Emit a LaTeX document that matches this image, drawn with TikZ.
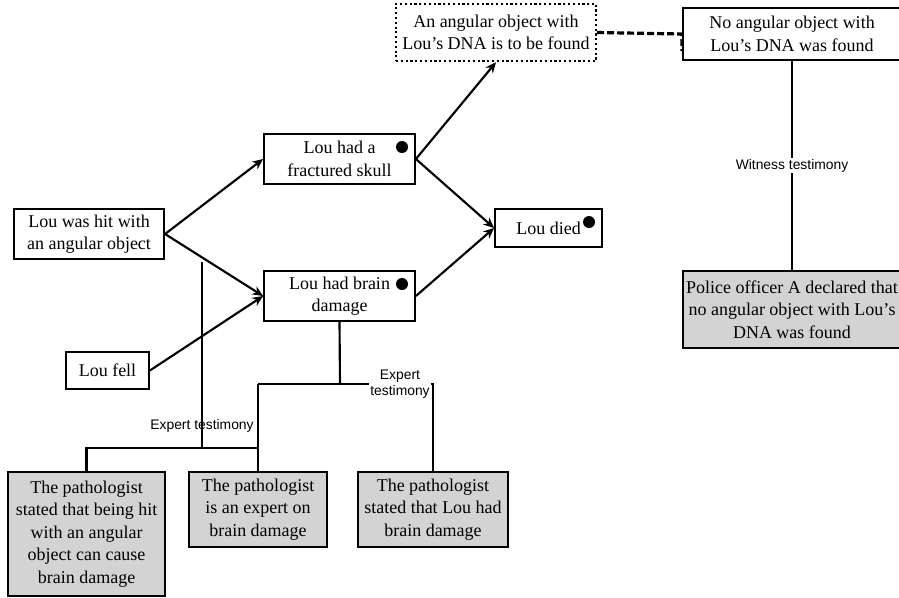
\documentclass[tikz,border=0pt]{standalone}
\usepackage{fontspec}
\setmainfont{Liberation Serif}
\setsansfont{Liberation Sans}
\usetikzlibrary{arrows.meta,calc}
\definecolor{boxgray}{RGB}{211,211,211}
\begin{document}
\begin{tikzpicture}[x=0.75pt,y=-0.75pt,
  every node/.style={font=\fontsize{13.5}{16.8}\selectfont, align=center, inner sep=0pt},
  box/.style={draw, line width=1.6pt, fill=white},
  gbox/.style={draw, line width=1.6pt, fill=boxgray},
  dbox/.style={draw, line width=1.6pt, dotted},
  conn/.style={line width=1.6pt},
  arr/.style={line width=1.6pt, -{Stealth[length=8pt,width=7pt]}},
  lbl/.style={font=\sffamily\fontsize{10.4}{12.5}\selectfont},
  dotmark/.style={circle, fill=black, minimum size=9pt}]
\useasboundingbox (0,0) rectangle (899,597);

% nodes
\node[box, minimum width=112.5pt, minimum height=37.5pt] (hit) at (89,234) {Lou was hit with\\an angular object};
\node[box, minimum width=113pt, minimum height=37.5pt] (frac) at (339.5,159) {Lou had a\\fractured skull};
\node[box, minimum width=113pt, minimum height=37.5pt] (brain) at (339.5,296) {Lou had brain\\damage};
\node[box, minimum width=80pt, minimum height=28.5pt] (died) at (548.5,228) {Lou died};
\node[box, minimum width=62pt, minimum height=28pt] (fell) at (107.5,370.5) {Lou fell};
\node[dbox, minimum width=150pt, minimum height=43pt] (tbf) at (496,32.5) {An angular object with\\Lou’s DNA is to be found};
\node[box, minimum width=163.5pt, minimum height=39pt] (noang) at (792,34) {No angular object with\\Lou’s DNA was found};
\node[gbox, minimum width=163.5pt, minimum height=57.75pt] (police) at (792,309.5) {Police officer A declared that\\no angular object with Lou’s\\DNA was found};
\node[gbox, minimum width=117.75pt, minimum height=93pt] (p1) at (86.5,534) {The pathologist\\stated that being hit\\with an angular\\object can cause\\brain damage};
\node[gbox, minimum width=103.5pt, minimum height=56.25pt] (p2) at (258,509.5) {The pathologist\\is an expert on\\brain damage};
\node[gbox, minimum width=112.5pt, minimum height=56.25pt] (p3) at (433,509.5) {The pathologist\\stated that Lou had\\brain damage};

% dots
\node[dotmark] (d1) at (402,147) {};
\node[dotmark] (d2) at (402,284) {};
\node[dotmark] (d3) at (589,222) {};

% arrows
\draw[arr] (hit.east) -- (frac.west);
\draw[arr] (hit.east) -- (brain.west);
\draw[arr] (fell.east) -- (brain.west);
\draw[arr] (frac.east) -- (tbf.south);
\draw[arr] (frac.east) -- (died.west);
\draw[arr] (brain.east) -- (died.west);

% conflict
\draw[line width=2.4pt, dash pattern=on 5.25pt off 2.25pt] (tbf.east) -- (noang.west) -- ++(0,17);

% witness
\draw[conn] (noang.south) -- (police.north) node[pos=0.5, lbl, fill=white, inner sep=1pt] (wt) {Witness testimony};

% expert testimony (right)
\coordinate (jA) at (340,384);
\coordinate (jL) at (258,384);
\coordinate (jR) at (433,384);
\draw[conn] (brain.south) -- (jA);
\draw[conn] (jL) -- (jR) -- (p3.north);
\node[lbl, fill=white, inner sep=1pt] (et1) at (400,384) {Expert\\testimony};
\draw[conn] (jL) -- (p2.north);

% expert testimony (left)
\coordinate (top) at (202,262);
\coordinate (jB) at (202,448);
\coordinate (jC) at (258,448);
\coordinate (jD) at (86.5,448);
\draw[conn] (top) -- (jB);
\draw[conn] (p1.north) -- (jD) -- (jC);
\node[lbl] (et2) at (202,426) {Expert testimony};
\end{tikzpicture}
\end{document}
